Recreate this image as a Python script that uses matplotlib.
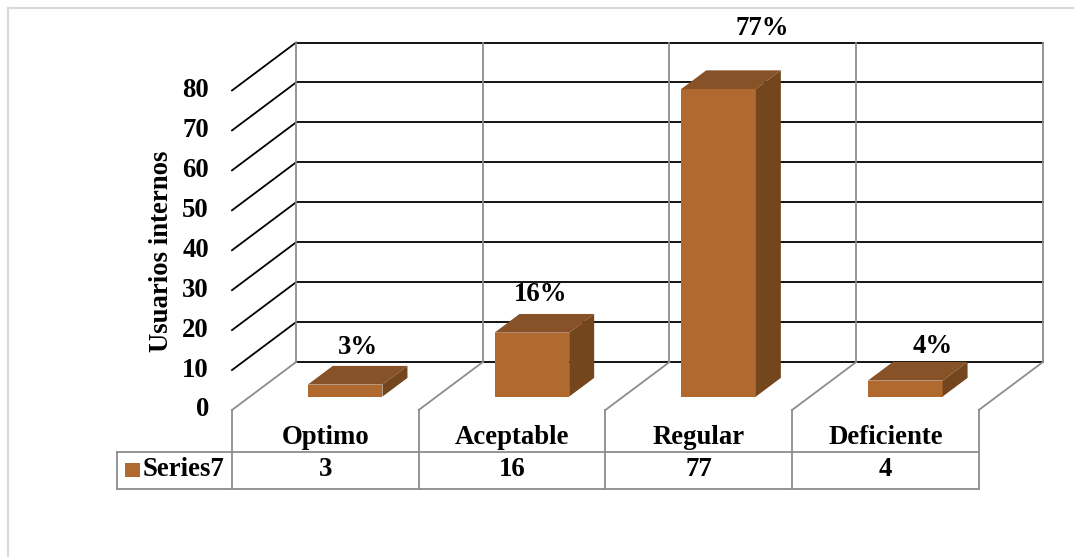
import matplotlib
matplotlib.use("Agg")
import matplotlib.pyplot as plt

#%% DATI
categorie = ["Optimo", "Aceptable", "Regular", "Deficiente"]
valori = [3, 16, 77, 4]
etichette = ["3%", "16%", "77%", "4%"]
serie = "Series7"
yticks = [0, 10, 20, 30, 40, 50, 60, 70, 80]
ylabel = "Usuarios internos"

# spostamenti delle etichette (unita' categoria / unita' valore)
lbl_dx = [0.0, -0.02, 0.166, 0.08]
lbl_dy = [4.5, 4.8, 10.4, 3.8]

#%% STILE
c_front = "#B06A30"
c_top = "#875228"
c_side = "#73461E"
c_gray = "#8C8C8C"
fs = 19.3
font = dict(family="Liberation Serif", weight="bold", size=fs, color="black")

# prospettiva obliqua: profondita' completa
DX = 0.343   # in unita' categoria
DY = 12.0    # in unita' valore
f0, f1 = 0.28, 0.67   # profondita' fronte / retro barra
bw = 0.40
ymax = yticks[-1]
n = len(categorie)

fig = plt.figure(figsize=(10.74, 5.57), dpi=100)
ax = fig.add_axes([0, 0, 1, 1])
ax.set_xlim(-232 / 186.7, (1074 - 232) / 186.7)
ax.set_ylim((410 - 557) / 3.994, 410 / 3.994)
ax.axis("off")

# bordo esterno
ax.plot([-1.2, -1.2], [-40, 100.6], color="#D9D9D9", lw=1.5, clip_on=False)
ax.plot([-1.2, 5], [100.6, 100.6], color="#D9D9D9", lw=1.5, clip_on=False)

#%% PARETE DI FONDO E GRIGLIA
for v in yticks:
    # linee orizzontali sul fondo
    ax.plot([DX, n + DX], [v + DY, v + DY], color="black", lw=1.3, zorder=1)
    if v > 0:
        ax.plot([0, DX], [v, v + DY], color="black", lw=1.3, zorder=1)
for i in range(n + 1):
    ax.plot([i + DX, i + DX], [DY, ymax + DY], color=c_gray, lw=1.3, zorder=1)
    # pavimento
    ax.plot([i, i + DX], [0, DY], color=c_gray, lw=1.3, zorder=1)

for v in yticks:
    ax.text(-0.123, v, str(v), ha="right", va="center", **font)

ax.text(-0.38, 39.8, ylabel, rotation=90, ha="center", va="center", **font)

#%% BARRE
xs = [i + 0.5 + f0 * DX + 0.01 for i in range(n)]
ax.bar(xs, valori, width=bw, bottom=f0 * DY, color=c_front, zorder=3)
d = (f1 - f0)
for x, v in zip(xs, valori):
    xl, xr = x - bw / 2, x + bw / 2
    yb, yt = f0 * DY, f0 * DY + v
    ax.fill([xl, xr, xr + d * DX, xl + d * DX], [yt, yt, yt + d * DY, yt + d * DY],
            color=c_top, zorder=3, lw=0)
    ax.fill([xr, xr + d * DX, xr + d * DX, xr], [yb, yb + d * DY, yt + d * DY, yt],
            color=c_side, zorder=3, lw=0)

for i, (x, v, t) in enumerate(zip(xs, valori, etichette)):
    ax.text(x + d * DX / 2 + lbl_dx[i], v + f1 * DY + lbl_dy[i], t,
            ha="center", va="center", zorder=4, **font)

#%% TABELLA DATI
r1, r2 = -10.5, -19.8
x_leg = -0.616
for i in range(n + 1):
    ax.plot([i, i], [0, r2], color=c_gray, lw=1.3, clip_on=False)
ax.plot([x_leg, n], [r1, r1], color=c_gray, lw=1.3)
ax.plot([x_leg, n], [r2, r2], color=c_gray, lw=1.3)
ax.plot([x_leg, x_leg], [r1, r2], color=c_gray, lw=1.3)

for i, (c, v) in enumerate(zip(categorie, valori)):
    ax.text(i + 0.5, -6.8, c, ha="center", va="center", **font)
    ax.text(i + 0.5, -15.0, str(v), ha="center", va="center", **font)

ax.fill([-0.573, -0.493, -0.493, -0.573], [-13.3, -13.3, -16.8, -16.8], color=c_front, lw=0)
ax.text(-0.477, -15.0, serie, ha="left", va="center", **font)

fig.savefig("out.png", dpi=100)
